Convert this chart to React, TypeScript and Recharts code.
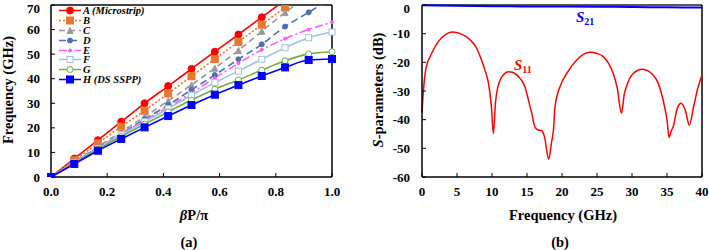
import { Legend, Line, LineChart, ReferenceLine, XAxis, YAxis } from "recharts";

const FONT = '"Liberation Serif", "Times New Roman", serif';

// (a) dispersion curves: normalised phase constant vs frequency (GHz)
const BETA_P = [0, 0.083, 0.167, 0.25, 0.333, 0.417, 0.5, 0.583, 0.667, 0.75, 0.833, 0.917, 1.0];
const FREQ_A = [0, 7.5, 15, 22.5, 30, 37, 44, 51, 58, 65, 72, 79, 86];
const FREQ_B = [0, 6.8, 13.7, 20.5, 27, 34, 41, 48, 55, 62, 69, 76, 83];
const FREQ_C = [0, 6.2, 12.3, 18.4, 24.5, 31, 37.5, 44.3, 51.5, 59.3, 66.9, 74, 81];
const FREQ_D = [0, 6, 11.8, 17.6, 23.5, 29.3, 35.5, 41.5, 47.9, 54, 61.2, 67, 73];
const FREQ_E = [0, 5.9, 11.7, 17.4, 23, 28.5, 34.2, 40.3, 46.3, 51.8, 56.3, 60, 63];
const FREQ_F = [0, 5.8, 11.6, 17.2, 22.5, 27.8, 33.3, 38.4, 43.1, 47.9, 52.6, 56.7, 59];
const FREQ_G = [0, 5.6, 11.2, 16.5, 21.5, 26.5, 31.3, 35.7, 39.5, 43.5, 47.3, 50.1, 51];
const FREQ_H = [0, 5.3, 10.7, 15.5, 20.2, 24.8, 29.3, 33.5, 37.4, 41.1, 44.6, 47.6, 48];
const BETA_TICKS = [0, 0.2, 0.4, 0.6, 0.8, 1.0];
const FREQ_TICKS = [0, 10, 20, 30, 40, 50, 60, 70];

// (b) S-parameters (dB) vs frequency (GHz)
const S11_F = [
  0, 0.2, 0.45, 0.8, 1.2, 2, 3, 4.4, 5.5, 6.9, 7.8, 8.5, 9.1, 9.5, 9.9, 10.2, 10.5, 10.8, 11.6, 12.4,
  13.2, 14, 14.7, 15.2, 15.7, 16.1, 16.5, 17.1, 17.5, 18.1, 18.5, 18.8, 19, 19.8, 20.7, 22.1, 23, 24,
  25, 25.9, 26.7, 27.3, 27.9, 28.5, 28.9, 29.2, 30.2, 31.5, 32.3, 33, 33.7, 34.2, 34.7, 35, 35.3, 35.6,
  35.9, 36.4, 37, 37.6, 38.2, 38.8, 39.4, 40,
];
const S11_DB = [
  -37.6, -30, -23.8, -20, -17.8, -14, -11, -9.4, -10, -12.2, -15, -19.2, -23.5, -27.3, -35, -44.8, -34,
  -29, -24.4, -23.3, -23.8, -25.6, -28.5, -33.1, -38, -42.4, -43.5, -43.8, -46, -53.8, -48, -43, -35.5,
  -28, -23.8, -19.2, -17.3, -16.5, -16.9, -18, -20.5, -23.8, -29, -37.8, -31, -28.5, -23.8, -22.4, -23,
  -24.4, -27, -30.8, -36, -40.1, -46.2, -44, -42.4, -36.6, -34.3, -36.6, -41.9, -35.5, -29, -24.4,
];
const S21_F = [0, 5, 10, 15, 20, 25, 30, 35, 40];
const S21_DB = [-0.1, -0.3, -0.4, -0.5, -0.5, -0.6, -0.7, -0.8, -0.9];
const GHZ_TICKS = [0, 5, 10, 15, 20, 25, 30, 35, 40];
const DB_TICKS = [-60, -50, -40, -30, -20, -10, 0];

const dispersion = BETA_P.map((b, i) => ({
  b,
  A: FREQ_A[i],
  B: FREQ_B[i],
  C: FREQ_C[i],
  D: FREQ_D[i],
  E: FREQ_E[i],
  F: FREQ_F[i],
  G: FREQ_G[i],
  H: FREQ_H[i],
}));
const s11 = S11_F.map((f, i) => ({ f, v: S11_DB[i] }));
const s21 = S21_F.map((f, i) => ({ f, v: S21_DB[i] }));

type Shape = "circle" | "square" | "triangle";
type Series = {
  key: string;
  label: string;
  color: string;
  dash?: string;
  shape: Shape;
  size: number;
  hollow?: boolean;
};

const SERIES: Series[] = [
  { key: "A", label: "A (Microstrip)", color: "#ff0000", shape: "circle", size: 7 },
  { key: "B", label: "B", color: "#e8782f", dash: "2 2", shape: "square", size: 7 },
  { key: "C", label: "C", color: "#9a9a9a", dash: "6 4", shape: "triangle", size: 6 },
  { key: "D", label: "D", color: "#4a6fb5", dash: "7 4", shape: "circle", size: 5 },
  { key: "E", label: "E", color: "#ff5cf0", dash: "8 3 2 3", shape: "circle", size: 3 },
  { key: "F", label: "F", color: "#9cc2e5", shape: "square", size: 6, hollow: true },
  { key: "G", label: "G", color: "#70ad47", shape: "circle", size: 6, hollow: true },
  { key: "H", label: "H (DS SSPP)", color: "#0000ff", shape: "square", size: 7 },
];

function Marker({ x, y, s }: { x: number; y: number; s: Series }) {
  const fill = s.hollow ? "#fff" : s.color;
  const h = s.size / 2;
  if (s.shape === "square")
    return <rect x={x - h} y={y - h} width={s.size} height={s.size} fill={fill} stroke={s.color} strokeWidth={1} />;
  if (s.shape === "triangle")
    return <polygon points={`${x},${y - h} ${x + h},${y + h} ${x - h},${y + h}`} fill={fill} stroke={s.color} strokeWidth={1} />;
  return <circle cx={x} cy={y} r={h} fill={fill} stroke={s.color} strokeWidth={1} />;
}

const dotFor = (s: Series) => (p: any) => {
  const { cx, cy, index } = p;
  if (cx == null || cy == null) return <g key={index} />;
  return (
    <g key={index}>
      <Marker x={cx} y={cy} s={s} />
    </g>
  );
};

const tickStyle = { fontFamily: FONT, fontWeight: 700, fontSize: 13, fill: "#000" };
const titleStyle = { fontFamily: FONT, fontWeight: 700, fontSize: 14.5, fill: "#000" };

function LegendBox() {
  return (
    <div style={{ fontFamily: FONT, fontWeight: 700, fontStyle: "italic", fontSize: 10.5, color: "#000" }}>
      {SERIES.map((s) => (
        <div key={s.key} style={{ display: "flex", alignItems: "center", height: 9.8, whiteSpace: "nowrap" }}>
          <svg width={22} height={9} style={{ overflow: "visible" }}>
            <line x1={0} x2={22} y1={4.5} y2={4.5} stroke={s.color} strokeWidth={1.5} strokeDasharray={s.dash} />
            <Marker x={11} y={4.5} s={s} />
          </svg>
          <span style={{ marginLeft: 2 }}>{s.label}</span>
        </div>
      ))}
    </div>
  );
}

function BottomTitle(props: any) {
  const { viewBox, title, tag, dxTitle = 0, dxTag = 0 } = props;
  const cx = viewBox.x + viewBox.width / 2;
  return (
    <g>
      <text x={cx + dxTitle} y={viewBox.y + 43} textAnchor="middle" style={titleStyle}>
        {title}
      </text>
      <text x={cx + dxTag} y={viewBox.y + 70} textAnchor="middle" style={titleStyle}>
        {tag}
      </text>
    </g>
  );
}

function SideTitle(props: any) {
  const { viewBox, cx, children } = props;
  const cy = viewBox.y + viewBox.height / 2 - 1;
  return (
    <text
      x={cx}
      y={cy}
      transform={`rotate(-90 ${cx} ${cy})`}
      textAnchor="middle"
      dominantBaseline="central"
      style={titleStyle}
    >
      {children}
    </text>
  );
}

function DispersionChart() {
  return (
    <LineChart
      width={345}
      height={250}
      data={dispersion}
      margin={{ top: 5, right: 13, bottom: 0, left: 0 }}
      style={{ position: "absolute", left: 0, top: 0 }}
    >
      <XAxis
        dataKey="b"
        type="number"
        domain={[0, 1]}
        ticks={BETA_TICKS}
        tickFormatter={(v: number) => v.toFixed(1)}
        height={73}
        tickSize={-4}
        tickMargin={14}
        tick={tickStyle}
        axisLine={{ stroke: "#000", strokeWidth: 1.5 }}
        tickLine={{ stroke: "#000" }}
        label={
          <BottomTitle
            title={
              <>
                <tspan fontStyle="italic">β</tspan>
                <tspan>P/π</tspan>
              </>
            }
            tag="(a)"
            dxTitle={2.5}
            dxTag={-2.5}
          />
        }
      />
      <YAxis
        type="number"
        domain={[0, 70]}
        ticks={FREQ_TICKS}
        allowDataOverflow
        width={51}
        tickSize={-4}
        tickMargin={15}
        tick={tickStyle}
        axisLine={{ stroke: "#000", strokeWidth: 1.5 }}
        tickLine={{ stroke: "#000" }}
        label={<SideTitle cx={8}>Frequency (GHz)</SideTitle>}
      />
      <ReferenceLine y={70} stroke="#444" strokeWidth={2} />
      <ReferenceLine x={1} stroke="#000" strokeWidth={1.5} />
      {SERIES.map((s) => (
        <Line
          key={s.key}
          dataKey={s.key}
          name={s.label}
          type="monotone"
          stroke={s.color}
          strokeWidth={1.6}
          strokeDasharray={s.dash}
          dot={dotFor(s)}
          activeDot={false}
          isAnimationActive={false}
        />
      ))}
      <Legend
        layout="vertical"
        align="center"
        verticalAlign="middle"
        content={() => <LegendBox />}
        wrapperStyle={{ left: 59, top: 6, width: "auto" }}
      />
    </LineChart>
  );
}

function SParamChart() {
  return (
    <LineChart
      width={359}
      height={250}
      margin={{ top: 5, right: 7, bottom: 0, left: 0 }}
      style={{ position: "absolute", left: 350, top: 0 }}
    >
      <XAxis
        dataKey="f"
        type="number"
        domain={[0, 40]}
        ticks={GHZ_TICKS}
        height={73}
        tickSize={-4}
        tickMargin={14}
        tick={tickStyle}
        axisLine={{ stroke: "#000", strokeWidth: 1.5 }}
        tickLine={{ stroke: "#000" }}
        label={<BottomTitle title="Frequency (GHz)" tag="(b)" dxTitle={1} dxTag={-2} />}
      />
      <YAxis
        type="number"
        domain={[-60, 0]}
        ticks={DB_TICKS}
        width={72}
        tickSize={-4}
        tickMargin={16}
        tick={tickStyle}
        axisLine={{ stroke: "#000", strokeWidth: 1.5 }}
        tickLine={{ stroke: "#000" }}
        label={
          <SideTitle cx={27.5}>
            <tspan fontStyle="italic">S</tspan>
            <tspan>-parameters (dB)</tspan>
          </SideTitle>
        }
      />
      <ReferenceLine y={0} stroke="#222" strokeWidth={1.5} />
      <ReferenceLine x={40} stroke="#000" strokeWidth={1.5} />
      <Line
        data={s11}
        dataKey="v"
        name="S11"
        type="monotone"
        stroke="#ff0000"
        strokeWidth={1.5}
        dot={false}
        activeDot={false}
        isAnimationActive={false}
      />
      <Line
        data={s21}
        dataKey="v"
        name="S21"
        type="monotone"
        stroke="#0000ff"
        strokeWidth={2}
        dot={false}
        activeDot={false}
        isAnimationActive={false}
      />
    </LineChart>
  );
}

const sLabel = (color: string) => ({
  position: "absolute" as const,
  fontFamily: FONT,
  fontWeight: 700,
  fontStyle: "italic" as const,
  fontSize: 15,
  color,
  lineHeight: "15px",
});

export default function App() {
  return (
    <div style={{ position: "absolute", left: 0, top: 0, width: 709, height: 250, background: "#fff", overflow: "hidden" }}>
      <DispersionChart />
      <SParamChart />
      <div style={{ ...sLabel("#0000ff"), left: 576, top: 10 }}>
        S<sub style={{ fontSize: 10, fontStyle: "normal", verticalAlign: "-3px" }}>21</sub>
      </div>
      <div style={{ ...sLabel("#ff0000"), left: 514, top: 58 }}>
        S<sub style={{ fontSize: 10, fontStyle: "normal", verticalAlign: "-3px" }}>11</sub>
      </div>
    </div>
  );
}
